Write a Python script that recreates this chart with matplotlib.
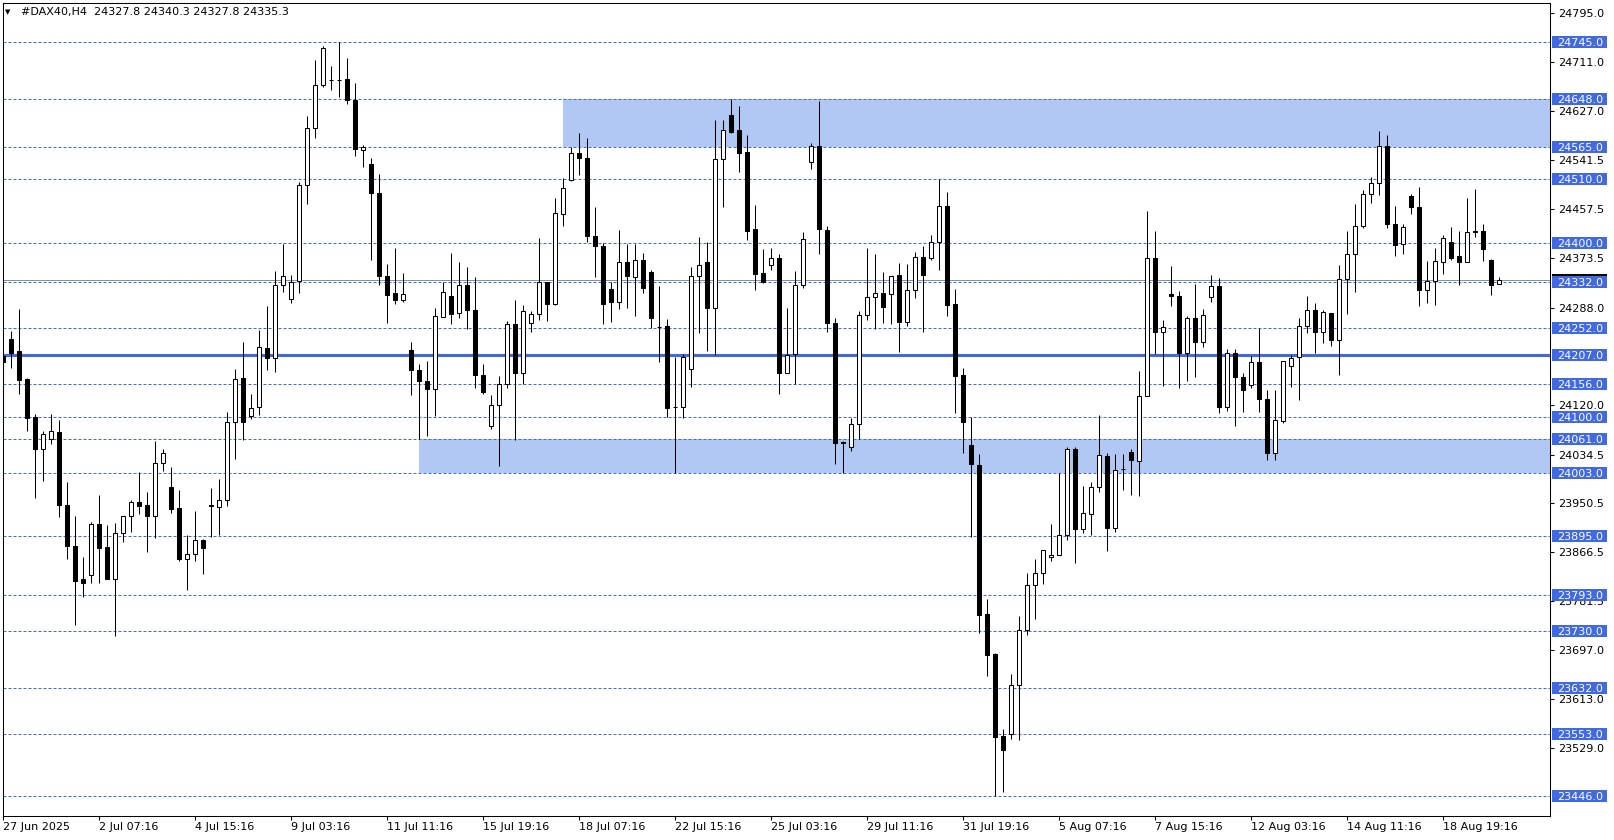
import matplotlib
matplotlib.use("Agg")
import matplotlib.pyplot as plt
import matplotlib.transforms as mtransforms
from matplotlib.patches import Rectangle

# ---------------- data (H4 candles) ----------------
opens = [24205.0, 24233.8, 24213.1, 24164.8, 24099.4, 24044.8, 24060.9, 24072.9, 23947.7, 23876.4,
         23820.2, 23826.5, 23914.9, 23875.3, 23820.7, 23898.9, 23929.3, 23952.3, 23947.1, 23929.3,
         24019.5, 23978.1, 23942.5, 23855.2, 23862.7, 23887.4, 23947.0, 23944.5, 23956.4, 24090.9,
         24166.7, 24101.0, 24116.0, 24218.0, 24201.1, 24326.9, 24302.5, 24334.4, 24499.3, 24597.3,
         24671.1, 24681.0, 24680.5, 24681.2, 24644.9, 24559.1, 24534.7, 24485.3, 24341.9, 24313.7,
         24301.1, 24215.6, 24181.2, 24162.2, 24147.3, 24272.5, 24308.7, 24278.8, 24327.7, 24284.6,
         24172.6, 24084.1, 24120.3, 24156.5, 24260.5, 24174.9, 24261.6, 24277.1, 24332.7, 24294.4,
         24449.5, 24507.5, 24554.7, 24546.0, 24411.6, 24394.3, 24319.2, 24297.9, 24366.9, 24340.4,
         24370.4, 24349.6, 24255.3, 24256.5, 24116.8, 24116.8, 24182.3, 24341.6, 24365.7, 24287.5,
         24544.5, 24619.3, 24593.4, 24555.4, 24422.6, 24346.8, 24361.7, 24373.9, 24175.0, 24207.3,
         24326.1, 24539.3, 24567.0, 24420.9, 24261.7, 24056.0, 24047.3, 24087.5, 24275.5, 24306.5,
         24313.4, 24311.7, 24344.5, 24263.4, 24318.3, 24375.5, 24373.2, 24400.4, 24463.4, 24293.3,
         24170.9, 24051.9, 24017.4, 23760.4, 23690.4, 23549.2, 23553.8, 23638.2, 23732.8, 23810.3,
         23830.9, 23858.5, 23861.9, 23896.3, 24044.4, 23906.7, 23932.5, 23979.5, 24032.9, 23908.2,
         24010.0, 24038.6, 24024.3, 24136.3, 24374.1, 24246.6, 24312.1, 24308.7, 24209.8, 24270.7,
         24228.8, 24306.9, 24325.9, 24116.8, 24210.4, 24169.1, 24155.3, 24194.0, 24129.8, 24037.0,
         24092.5, 24186.5, 24202.1, 24256.1, 24283.7, 24245.8, 24279.1, 24231.4, 24336.8, 24380.4,
         24428.7, 24483.9, 24502.9, 24566.7, 24432.1, 24397.6, 24480.4, 24461.5, 24317.6, 24333.2,
         24366.0, 24401.1, 24377.5, 24366.0, 24420.0, 24420.0, 24370.0, 24327.8]
highs = [24218.0, 24247.6, 24285.5, 24167.1, 24103.9, 24075.2, 24104.5, 24094.2, 23987.3, 23928.7,
         23858.6, 23918.4, 23964.9, 23913.2, 23916.1, 23928.1, 23956.3, 24004.6, 23970.1, 24058.0,
         24044.2, 24013.2, 23973.5, 23896.0, 23937.4, 23888.5, 23977.7, 23993.3, 24108.5, 24182.3,
         24229.3, 24139.8, 24249.9, 24291.2, 24350.7, 24397.0, 24343.8, 24505.0, 24617.9, 24714.3,
         24738.1, 24703.7, 24745.0, 24717.4, 24674.3, 24569.0, 24546.0, 24517.8, 24362.5, 24390.7,
         24348.1, 24229.4, 24191.5, 24196.7, 24287.6, 24331.7, 24382.3, 24367.3, 24358.6, 24339.8,
         24191.5, 24138.1, 24170.8, 24264.0, 24301.8, 24292.6, 24282.3, 24408.7, 24332.7, 24477.0,
         24512.1, 24563.9, 24588.0, 24580.8, 24461.6, 24399.5, 24332.7, 24420.9, 24396.8, 24398.0,
         24381.2, 24353.0, 24325.0, 24269.1, 24202.0, 24207.5, 24358.7, 24408.8, 24400.2, 24610.6,
         24610.6, 24648.0, 24634.8, 24585.9, 24464.0, 24388.1, 24389.9, 24379.5, 24287.6, 24351.8,
         24418.9, 24572.1, 24643.4, 24427.8, 24270.3, 24057.6, 24097.9, 24281.2, 24391.0, 24380.6,
         24349.6, 24342.7, 24365.2, 24362.3, 24384.1, 24393.3, 24412.3, 24510.0, 24486.4, 24319.2,
         24184.1, 24100.2, 24035.7, 23786.2, 23693.2, 23562.4, 23657.1, 23755.8, 23830.9, 23853.9,
         23870.5, 23915.3, 24002.5, 24048.4, 24048.4, 23981.2, 23988.1, 24102.4, 24038.0, 24036.3,
         24036.3, 24043.8, 24178.2, 24454.0, 24419.5, 24267.3, 24359.2, 24316.1, 24274.2, 24328.2,
         24285.7, 24343.7, 24339.7, 24217.3, 24216.2, 24176.0, 24204.7, 24252.1, 24145.3, 24145.3,
         24196.4, 24206.8, 24270.0, 24308.5, 24295.8, 24283.2, 24279.1, 24361.5, 24420.6, 24467.2,
         24491.4, 24512.7, 24591.5, 24584.6, 24463.2, 24432.7, 24483.9, 24496.0, 24368.3, 24390.7,
         24412.6, 24426.0, 24420.6, 24477.6, 24493.1, 24432.7, 24372.3, 24340.3]
lows = [24100.0, 24184.4, 24139.6, 24075.2, 23960.3, 23989.6, 24053.4, 23927.6, 23855.2, 23741.4,
        23789.7, 23813.8, 23813.8, 23820.7, 23722.5, 23884.5, 23901.7, 23932.8, 23867.3, 23891.4,
        24006.3, 23934.5, 23851.7, 23801.2, 23851.7, 23829.0, 23893.0, 23896.3, 23946.0, 24026.5,
        24059.0, 24095.3, 24102.2, 24181.0, 24177.3, 24315.0, 24295.0, 24312.5, 24465.9, 24579.8,
        24667.4, 24662.4, 24650.5, 24639.2, 24549.7, 24529.7, 24370.1, 24326.3, 24261.8, 24293.7,
        24298.0, 24138.1, 24061.6, 24066.3, 24101.9, 24271.4, 24260.5, 24269.7, 24250.7, 24149.0,
        24139.8, 24078.3, 24014.5, 24149.0, 24059.4, 24155.9, 24245.5, 24266.2, 24264.5, 24292.0,
        24428.0, 24505.8, 24517.3, 24400.7, 24339.8, 24260.0, 24263.9, 24284.7, 24287.0, 24273.2,
        24312.8, 24252.5, 24193.8, 24099.0, 24003.0, 24097.8, 24151.3, 24244.4, 24212.8, 24205.9,
        24461.7, 24588.9, 24521.5, 24403.7, 24318.0, 24330.1, 24352.5, 24138.2, 24175.0, 24156.5,
        24322.0, 24526.7, 24379.5, 24245.6, 24018.5, 24003.0, 24040.4, 24062.2, 24266.3, 24250.8,
        24261.1, 24259.4, 24211.1, 24255.9, 24304.2, 24245.6, 24369.8, 24352.5, 24273.2, 24106.5,
        24037.0, 23892.3, 23727.1, 23652.5, 23446.0, 23453.4, 23544.7, 23543.5, 23723.6, 23751.2,
        23812.0, 23851.0, 23861.9, 23886.6, 23847.6, 23899.2, 23895.2, 23970.3, 23868.6, 23901.3,
        23973.1, 23965.1, 23963.4, 24136.3, 24208.1, 24152.9, 24290.8, 24149.5, 24161.6, 24167.9,
        24220.2, 24297.7, 24106.4, 24109.9, 24084.0, 24108.2, 24149.5, 24108.0, 24024.8, 24025.0,
        24089.0, 24151.0, 24129.0, 24244.0, 24209.0, 24226.2, 24221.0, 24171.0, 24276.8, 24314.2,
        24425.2, 24467.8, 24481.6, 24425.2, 24376.9, 24379.8, 24448.8, 24290.0, 24295.2, 24291.8,
        24345.3, 24369.4, 24326.3, 24366.0, 24409.1, 24367.7, 24309.0, 24327.8]
closes = [24195.0, 24210.2, 24163.7, 24098.2, 24044.8, 24070.1, 24074.6, 23948.3, 23876.4, 23817.3,
          23813.8, 23914.9, 23874.2, 23820.7, 23898.9, 23928.1, 23952.3, 23946.5, 23929.3, 24019.5,
          24036.7, 23941.4, 23855.2, 23862.7, 23887.4, 23874.2, 23946.0, 23956.4, 24090.9, 24164.8,
          24090.9, 24114.7, 24219.9, 24201.1, 24326.9, 24341.9, 24331.6, 24499.3, 24597.3, 24671.1,
          24735.0, 24680.0, 24680.0, 24644.9, 24561.0, 24564.4, 24484.6, 24341.9, 24310.3, 24301.1,
          24310.5, 24180.0, 24161.1, 24147.3, 24273.7, 24315.1, 24276.6, 24327.7, 24283.4, 24172.6,
          24141.6, 24120.3, 24156.5, 24260.5, 24174.9, 24282.3, 24277.1, 24332.7, 24294.4, 24451.2,
          24494.3, 24554.7, 24545.5, 24411.0, 24393.8, 24293.8, 24297.3, 24366.9, 24342.2, 24370.4,
          24321.5, 24270.3, 24254.0, 24114.5, 24116.0, 24202.4, 24341.6, 24361.7, 24287.5, 24544.5,
          24594.5, 24590.0, 24554.9, 24419.8, 24345.6, 24331.9, 24373.9, 24175.0, 24206.6, 24326.1,
          24406.9, 24567.0, 24422.6, 24261.1, 24054.2, 24055.0, 24087.5, 24275.5, 24306.5, 24313.4,
          24288.7, 24342.7, 24262.8, 24318.3, 24375.5, 24343.9, 24400.4, 24463.4, 24292.2, 24169.7,
          24090.4, 24018.5, 23758.1, 23689.2, 23548.1, 23526.3, 23638.2, 23732.8, 23810.3, 23830.9,
          23870.5, 23861.9, 23896.3, 24044.4, 23906.7, 23934.2, 23978.9, 24034.6, 23908.2, 24008.8,
          24009.0, 24025.4, 24136.3, 24374.1, 24246.0, 24255.2, 24308.7, 24209.3, 24270.7, 24228.8,
          24275.9, 24325.9, 24116.8, 24210.4, 24168.5, 24146.1, 24194.9, 24130.1, 24037.5, 24093.7,
          24196.4, 24200.4, 24256.1, 24283.7, 24245.2, 24280.3, 24231.4, 24336.8, 24380.4, 24428.7,
          24483.9, 24502.9, 24566.7, 24432.1, 24395.9, 24426.9, 24460.9, 24317.6, 24333.8, 24368.3,
          24407.1, 24373.5, 24366.0, 24418.3, 24417.7, 24388.4, 24326.5, 24335.3]

x_labels = ["27 Jun 2025", "2 Jul 07:16", "4 Jul 15:16", "9 Jul 03:16", "11 Jul 11:16",
            "15 Jul 19:16", "18 Jul 07:16", "22 Jul 15:16", "25 Jul 03:16", "29 Jul 11:16",
            "31 Jul 19:16", "5 Aug 07:16", "7 Aug 15:16", "12 Aug 03:16", "14 Aug 11:16",
            "18 Aug 19:16"]
x_label_step = 12
y_ticks = [24795.0, 24711.0, 24627.0, 24541.5, 24457.5, 24373.5, 24288.0, 24120.0, 24034.5,
           23950.5, 23866.5, 23781.5, 23697.0, 23613.0, 23529.0]
dashed_levels = [24745.0, 24648.0, 24565.0, 24510.0, 24400.0, 24332.0, 24252.0, 24156.0,
                 24100.0, 24061.0, 24003.0, 23895.0, 23793.0, 23730.0, 23632.0, 23553.0, 23446.0]
key_level = 24207.0
zones = [(52, 24003.0, 24061.0), (70, 24565.0, 24648.0)]  # (start bar, low, high)
bid = 24335.3
header = "#DAX40,H4  24327.8 24340.3 24327.8 24335.3"

# ---------------- figure ----------------
W, H, DPI = 1614, 840, 100
BLUE = "#4169E1"
ZONE = "#B0C8F3"

fig = plt.figure(figsize=(W / DPI, H / DPI), dpi=DPI, facecolor="white")
ax_l, ax_r, ax_t, ax_b = 2.5, 1550.0, 2.7, 816.0
ax = fig.add_axes([ax_l / W, 1 - ax_b / H, (ax_r - ax_l) / W, (ax_b - ax_t) / H])
ax.set_facecolor("white")

x0 = (ax_l - 3.3) / 8.0
x1 = (ax_r - 3.3) / 8.0
ax.set_xlim(x0, x1)
ax.set_ylim(23411.7, 24813.4)
per_px = (24813.4 - 23411.7) / (ax_b - ax_t)

# zones
for start, lo, hi in zones:
    ax.add_patch(Rectangle((start - 0.05, lo), x1 - start + 0.05, hi - lo,
                           facecolor=ZONE, edgecolor="none", zorder=0.5))

# level lines
for lv in dashed_levels:
    ax.axhline(lv, color=BLUE, lw=0.72, linestyle=(0, (3, 2)), zorder=1)
ax.axhline(key_level, color=BLUE, lw=2.2, zorder=1)
ax.axhline(bid, color="#8392A3", lw=0.72, zorder=1)

# candles
n = len(opens)
xs = list(range(n))
ax.vlines(xs, lows, highs, colors="black", lw=0.75, zorder=3)
bottoms = [min(o, c) for o, c in zip(opens, closes)]
heights = [abs(c - o) for o, c in zip(opens, closes)]
fills = ["white" if c >= o else "black" for o, c in zip(opens, closes)]
ax.bar(xs, heights, bottom=bottoms, width=0.5, color=fills, edgecolor="black",
       linewidth=0.75, zorder=4)

# axes styling
for sp in ax.spines.values():
    sp.set_color("black")
    sp.set_linewidth(0.75)

ax.set_xticks([i * x_label_step for i in range(len(x_labels))])
ax.set_xticklabels(x_labels, fontsize=8)
for t in ax.get_xticklabels():
    t.set_ha("left")
ax.tick_params(axis="x", direction="out", length=3, width=0.75, pad=1.5, colors="black")

ax.yaxis.tick_right()
ax.set_yticks(y_ticks)
ax.set_yticklabels([f"{v:.1f}" for v in y_ticks], fontsize=8)
ax.tick_params(axis="y", direction="out", length=3, width=0.75, pad=3, colors="black")

# price labels on the right axis
trans = mtransforms.blended_transform_factory(fig.transFigure, ax.transData)
box_h = 12 * per_px
ax.add_patch(Rectangle((1552 / W, bid - box_h / 2), 55 / W, box_h, transform=trans,
                       facecolor="black", edgecolor="none", clip_on=False, zorder=5))
for lv in dashed_levels + [key_level]:
    ax.add_patch(Rectangle((1552 / W, lv - box_h / 2), 55 / W, box_h, transform=trans,
                           facecolor=BLUE, edgecolor="none", clip_on=False, zorder=6))
    ax.text(1557 / W, lv, f"{lv:.1f}", transform=trans, color="white", fontsize=8,
            va="center_baseline", ha="left", clip_on=False, zorder=7)

# header
fig.text(5 / W, 1 - 12.5 / H, "\u25BC", fontsize=5, va="center", ha="left", color="black")
fig.text(21 / W, 1 - 12.5 / H, header, fontsize=8, va="center", ha="left", color="black")

fig.savefig("out.png", dpi=DPI, facecolor="white")
